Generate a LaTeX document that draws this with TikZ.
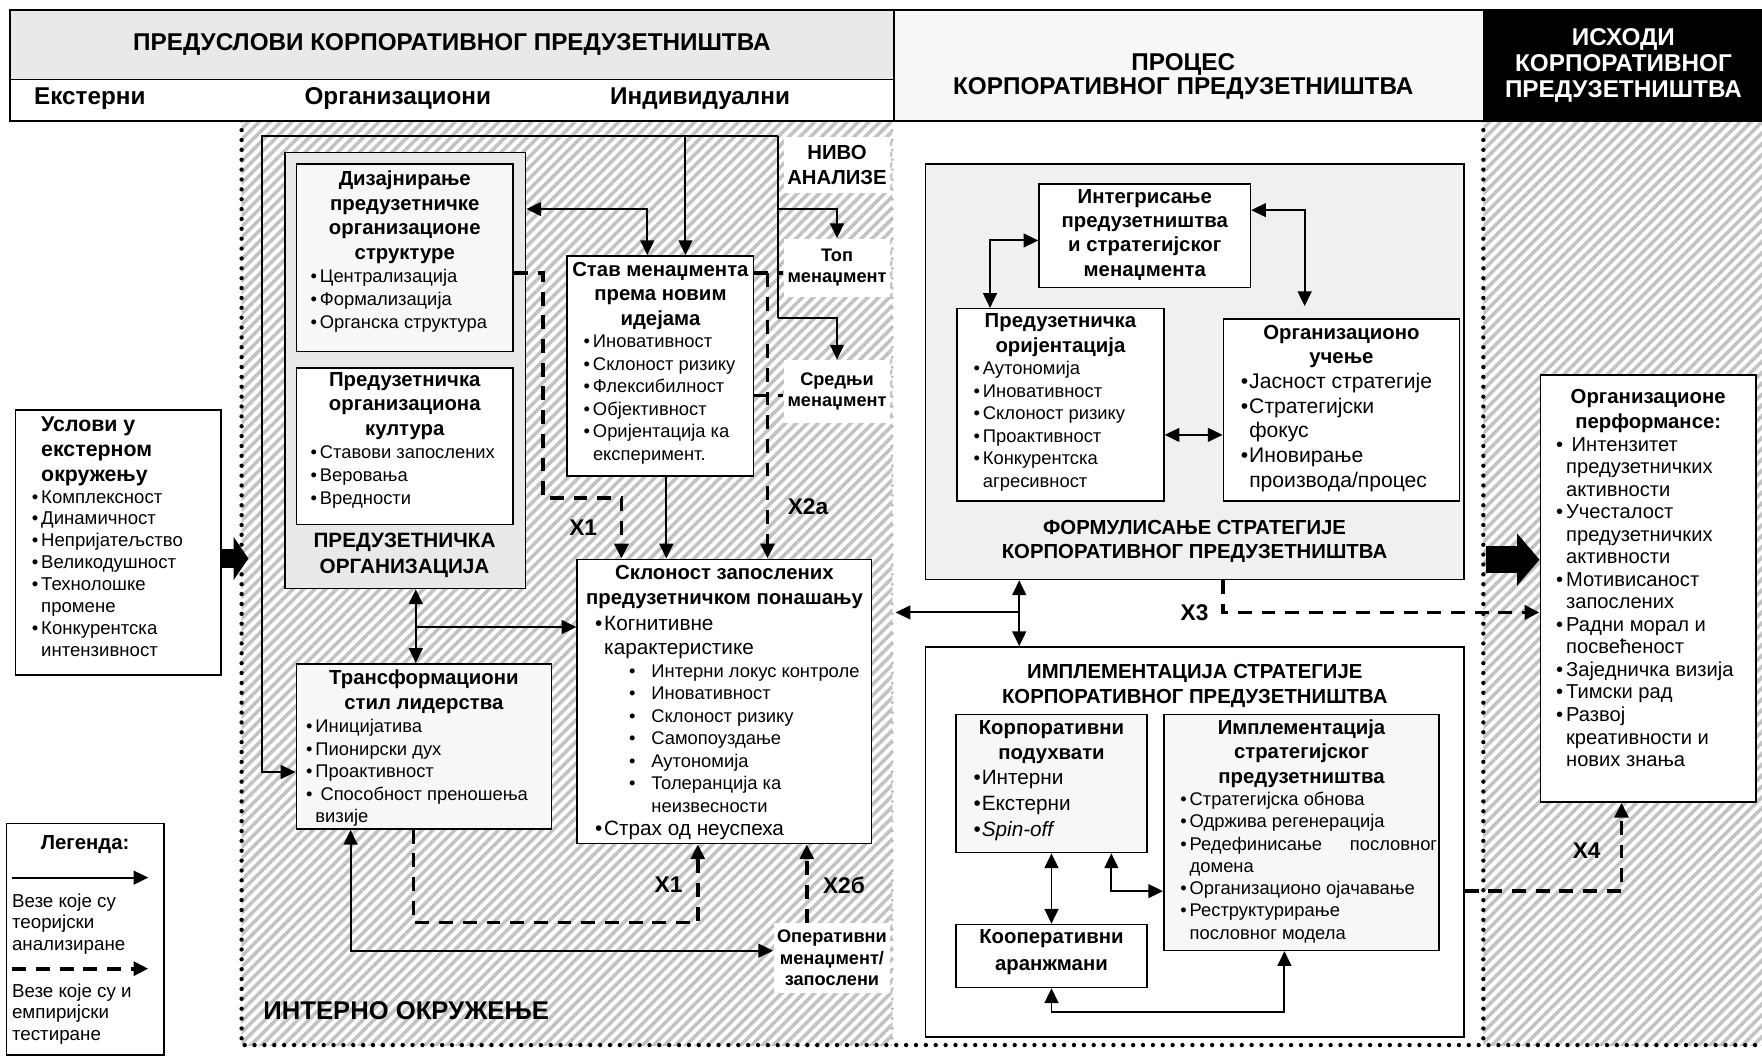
\documentclass[tikz,border=0pt]{standalone}
\usepackage{fontspec}
\setmainfont{Liberation Sans}
\usetikzlibrary{arrows.meta,patterns.meta,positioning}

\newlength\pxu
\setlength\pxu{0.02cm}
\newcommand\fs[2]{\fontsize{#1}{#2}\selectfont}
\newcommand\sz[2]{\par\fs{#1}{#2}}
\newcommand\bx[3]{\parbox[t][#2\pxu][t]{#1\pxu}{\raggedright#3\par}}
\newcommand\hd[2][12.4]{{\centering\bfseries\fontsize{10.3}{#1}\selectfont #2\par}}
\newcommand\bl[2][1.5pt]{\par\leavevmode\llap{\textbullet\hspace{#1}}#2}
\newcommand\cl[1]{\par #1}
\newcommand\pad[1]{\vspace*{#1\pxu}}
\newcommand\hdfont{\bfseries\fontsize{12.3}{13}\selectfont}

\begin{document}
\begin{tikzpicture}[x=0.02cm,y=-0.02cm,>={Triangle[length=7.5pt,width=7pt]},
  box/.style={draw,line width=0.8pt,inner sep=0pt,anchor=north west,fill=white},
  conn/.style={line width=1pt},
  dsh/.style={line width=1.9pt,dash pattern=on 7pt off 5pt},
  dotline/.style={line width=2.2pt,line cap=round,dash pattern=on 0pt off 5pt},
  hatch/.style={pattern={Lines[angle=45,distance=3.9pt,line width=1.8pt]},pattern color=gray!48},
  lbl/.style={fill=white,inner sep=0pt,anchor=north west,align=center,font=\bfseries\fs{9.2}{10.8}},
  xl/.style={font=\bfseries\fs{11.5}{13}},
  bigl/.style={line width=10pt,-{Triangle[length=7.5pt,width=21.6pt]}},
  bigr/.style={line width=13.7pt,-{Triangle[length=11.4pt,width=26pt]}}]
\useasboundingbox (0,0) rectangle (1568,940);

\fill[hatch] (215,107) rectangle (794,930);
\fill[hatch] (1320,107) rectangle (1568,930);
\draw[dotline] (215,107) -- (215,930) -- (1568,930);
\draw[dotline] (1320,107) -- (1320,930);
\draw[dotline,gray!55,line width=1.6pt] (794,107) -- (794,930);

\node[draw,line width=0.8pt,fill=gray!17,anchor=north west,minimum width=787\pxu,minimum height=62\pxu,inner sep=0pt,font=\hdfont] (hdpre) at (8,8) {ПРЕДУСЛОВИ КОРПОРАТИВНОГ ПРЕДУЗЕТНИШТВА};
\node[draw,line width=0.8pt,fill=white,anchor=north west,minimum width=787\pxu,minimum height=37\pxu,inner sep=0pt] (hdlev) at (8,70) {};
\node[font=\hdfont] (hdext) at (80,88) {Екстерни};
\node[font=\hdfont] (hdorg) at (354,88) {Организациони};
\node[font=\hdfont] (hdind) at (623,88) {Индивидуални};
\node[draw,line width=0.8pt,fill=gray!6,anchor=north west,minimum width=525\pxu,minimum height=99\pxu,inner sep=0pt] (hdproc) at (795,8) {};
\node[font=\bfseries\fs{12.3}{12},align=center] (hdproctxt) at (1053,68) {ПРОЦЕС\\КОРПОРАТИВНОГ ПРЕДУЗЕТНИШТВА};
\node[draw,line width=0.8pt,fill=black,text=white,anchor=north west,minimum width=248\pxu,minimum height=99\pxu,inner sep=0pt,align=center,font=\hdfont] (hdout) at (1320,8) {ИСХОДИ\\КОРПОРАТИВНОГ\\ПРЕДУЗЕТНИШТВА};

\node[box] (uslovi) at (13,364) {\bx{183}{236}{\pad{6.5}{\bfseries\fs{10.8}{12.5}\leftskip=23\pxu Услови у\\екстерном\\окружењу\par}\sz{9.4}{11.1}\leftskip=23\pxu
  \bl{Комплексност}\bl{Динамичност}\bl{Непријатељство}\bl{Великодушност}\bl{Технолошке}\cl{промене}\bl{Конкурентска}\cl{интензивност}}};
\node[box] (legend) at (5,732) {\bx{140}{206}{\pad{10.5}\hd{Легенда:}\sz{9.5}{10.8}\leftskip=5\pxu\vspace{33\pxu}Везе које су\\теоријски\\анализиране\par\vspace{23\pxu}Везе које су и\\емпиријски\\тестиране}};
\coordinate (lga) at (11,781);
\coordinate (lgb) at (132,781);
\coordinate (lgc) at (11,862);
\coordinate (lgd) at (132,862);
\draw[conn,->] (lga) -- (lgb);
\draw[dsh,->] (lgc) -- (lgd);

\node[box,fill=gray!17,minimum width=214\pxu,minimum height=388\pxu] (org) at (253,135) {};
\node[font=\bfseries\fs{10.5}{13},align=center] (orgtxt) at (360,494) {ПРЕДУЗЕТНИЧКА\\ОРГАНИЗАЦИЈА};
\node[box,fill=gray!6] (dizajn) at (263,145) {\bx{193}{167}{\pad{6.5}\hd{Дизајнирање\\предузетничке\\организационе\\структуре}\sz{9.3}{11.7}\leftskip=21\pxu
  \bl{Централизација}\bl{Формализација}\bl{Органска структура}}};
\node[box] (kultura) at (263,327) {\bx{193}{139}{\pad{3.5}\hd{Предузетничка\\организациона\\култура}\sz{9.3}{11.7}\leftskip=21\pxu
  \bl{Ставови запослених}\bl{Веровања}\bl{Вредности}}};
\node[box] (stav) at (504,227) {\bx{166}{196}{\pad{5.5}\hd{Став менаџмента\\према новим\\идејама}\sz{9.3}{11.4}\leftskip=23\pxu
  \bl{Иновативност}\bl{Склоност ризику}\bl{Флексибилност}\bl{Објективност}\bl{Оријентација ка}\cl{експеримент.}}};
\node[box] (sklon) at (513,497) {\bx{262}{253}{\pad{5.5}\hd{Склоност запослених\\предузетничком понашању}\vspace{1.5pt}\sz{10.5}{12}\leftskip=24\pxu
  \bl[1pt]{Когнитивне}\cl{карактеристике}\sz{9.3}{11.4}\leftskip=66\pxu
  \bl[8pt]{Интерни локус контроле}\bl[8pt]{Иновативност}\bl[8pt]{Склоност ризику}\bl[8pt]{Самопоуздање}\bl[8pt]{Аутономија}\bl[8pt]{Толеранција ка}\cl{неизвесности}\sz{10.5}{12}\leftskip=24\pxu
  \bl[1pt]{Страх од неуспеха}}};
\node[box,fill=gray!6] (trans) at (263,590) {\bx{227}{147}{\pad{5.5}\hd{Трансформациони\\стил лидерства}\vspace{0.5pt}\sz{9.3}{11.4}\leftskip=17\pxu
  \bl{Иницијатива}\bl{Пионирски дух}\bl{Проактивност}\bl{\ Способност преношења}\cl{визије}}};

\node[lbl,minimum width=95\pxu,minimum height=49\pxu,font=\bfseries\fs{10.3}{12.4}] (nivo) at (697,122) {НИВО\\АНАЛИЗЕ};
\node[lbl,minimum width=95\pxu,minimum height=52\pxu] (toplbl) at (697,212) {Топ\\менаџмент};
\node[lbl,minimum width=95\pxu,minimum height=56\pxu] (sredlbl) at (697,320) {Средњи\\менаџмент};
\node[lbl,minimum width=104\pxu,minimum height=62\pxu] (oper) at (688,821) {Оперативни\\менаџмент/\\запослени};
\node[anchor=west,inner sep=0pt,font=\bfseries\fs{13}{15}] (intlbl) at (234,899) {ИНТЕРНО ОКРУЖЕЊЕ};

\coordinate (frnw) at (233,121);
\coordinate (frne) at (692,121);
\coordinate (frse) at (692,283);
\coordinate (jorg) at (370,558);
\draw[conn,->] (frne) -- (frnw) |- (trans.west |- 0,687);
\draw[conn] (frne) -- (frse);
\draw[conn,->] (frne |- 0,186) -| (toplbl.north);
\draw[conn,->] (frse) -| (sredlbl.north);
\draw[conn,->] (frne -| 610,0) -- (stav.north -| 610,0);
\draw[conn,<->] (org.east |- 0,186) -| (stav.north -| 576,0);
\draw[conn,->] (stav.south -| 593,0) -- (sklon.north -| 593,0);
\draw[dsh,->] (dizajn.east |- 0,243) -| (483,443) -| (sklon.north -| 553,0);
\draw[dsh] (stav.east |- 0,243) -- (toplbl.west |- 0,243);
\draw[dsh,->] (683,243) -- (sklon.north -| 683,0);
\draw[dsh] (stav.east |- 0,352) -- (sredlbl.west |- 0,352);
\draw[conn,<->] (org.south -| jorg) -- (trans.north -| jorg);
\draw[conn,->] (jorg) -- (sklon.west |- jorg);
\draw[dsh,->] (trans.south -| 368,0) |- (621,821) -- (sklon.south -| 621,0);
\draw[dsh,->] (oper.north -| 718,0) -- (sklon.south -| 718,0);
\draw[conn,<->] (trans.south -| 312,0) |- (oper.west |- 0,846);
\draw[bigl] (uslovi.east |- 0,497) -- (221,497);
\node[xl] (x1a) at (519,470) {Х1};
\node[xl] (x2a) at (719,451) {Х2а};
\node[xl] (x1b) at (595,787) {Х1};
\node[xl] (x2b) at (751,788) {Х2б};

\node[box,fill=gray!12,minimum width=479\pxu,minimum height=370\pxu] (form) at (823,145) {};
\node[font=\bfseries\fs{10.3}{11.9},align=center] (formtxt) at (1063,482) {ФОРМУЛИСАЊЕ СТРАТЕГИЈЕ\\КОРПОРАТИВНОГ ПРЕДУЗЕТНИШТВА};
\node[box] (integ) at (924,163) {\bx{188}{92}{\pad{4.5}\hd{Интегрисање\\предузетништва\\и стратегијског\\менаџмента}}};
\node[box] (predor) at (851,274) {\bx{184}{171}{\pad{4.5}\hd{Предузетничка\\оријентација}\sz{9.3}{11.4}\leftskip=23\pxu
  \bl{Аутономија}\bl{Иновативност}\bl{Склоност ризику}\bl{Проактивност}\bl{Конкурентска}\cl{агресивност}}};
\node[box] (orguc) at (1088,283) {\bx{210}{162}{\pad{5.5}\hd{Организационо\\учење}\sz{10.7}{12.5}\leftskip=23\pxu
  \bl[0.5pt]{Јасност стратегије}\bl[0.5pt]{Стратегијски}\cl{фокус}\bl[0.5pt]{Иновирање}\cl{производа/процес}}};
\draw[conn,<->] (integ.west |- 0,214) -| (predor.north -| 881,0);
\draw[conn,<->,shorten >=6pt] (integ.east |- 0,187) -| (orguc.north -| 1161,0);
\draw[conn,<->] (predor.east |- 0,387) -- (orguc.west |- 0,387);

\node[box] (implbox) at (823,575) {\bx{479}{347}{\pad{15.5}\hd{ИМПЛЕМЕНТАЦИЈА СТРАТЕГИЈЕ\\КОРПОРАТИВНОГ ПРЕДУЗЕТНИШТВА}}};
\node[box,fill=gray!6] (korp) at (850,635) {\bx{170}{123}{\pad{5.5}\hd{Корпоративни\\подухвати}\sz{10.5}{13}\leftskip=23\pxu
  \bl[0.5pt]{Интерни}\bl[0.5pt]{Екстерни}\bl[0.5pt]{\textit{Spin-off}}}};
\node[box,fill=gray!6] (implstr) at (1035,635) {\bx{245}{210}{\pad{4.5}\hd{Имплементација\\стратегијског\\предузетништва}\sz{9.3}{11.3}\leftskip=23\pxu
  \bl{Стратегијска обнова}\bl{Одржива регенерација}\bl{Редефинисање\hfill пословног\hspace*{1pt}}\cl{домена}\bl{Организационо ојачавање}\bl{Реструктурирање}\cl{пословног модела}}};
\node[box] (koop) at (850,822) {\bx{170}{56}{\pad{4.5}\hd[13.6]{Кооперативни\\аранжмани}}};
\draw[conn,<->] (korp.south) -- (koop.north);
\draw[conn,<->] (korp.south -| 989,0) |- (implstr.west |- 0,793);
\draw[conn,<->] (koop.south) -- ++(0,21) -| (implstr.south -| 1143,0);

\node[box] (outcome) at (1370,333) {\bx{192}{380}{\pad{12.5}\hd[13]{Организационе\\перформансе:}\sz{10.2}{11.4}\leftskip=23\pxu
  \bl{\ Интензитет}\cl{предузетничких}\cl{активности}\bl{Учесталост}\cl{предузетничких}\cl{активности}\bl{Мотивисаност}\cl{запослених}\bl{Радни морал и}\cl{посвећеност}\bl{Заједничка визија}\bl{Тимски рад}\bl{Развој}\cl{креативности и}\cl{нових знања}}};

\coordinate (jproc) at (907,545);
\coordinate (lend) at (797,545);
\draw[conn,<->] (form.south -| jproc) -- (implbox.north -| jproc);
\draw[conn,->] (jproc) -- (lend);
\draw[dsh,->] (form.south -| 1088,0) |- (outcome.west |- 0,545);
\node[xl] (x3) at (1063,545) {Х3};
\draw[bigr] (1322,498) -- (outcome.west |- 0,498);
\draw[dsh,->] (implbox.east |- 0,793) -| (outcome.south -| 1443,0);
\node[xl] (x4) at (1412,757) {Х4};
\end{tikzpicture}
\end{document}
